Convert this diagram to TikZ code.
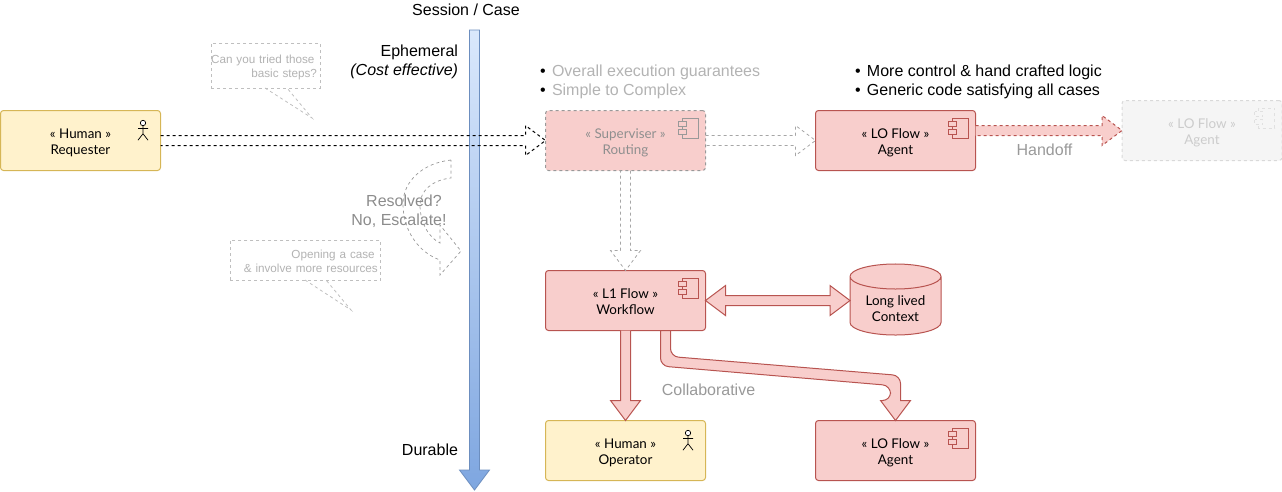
\documentclass[tikz,border=0pt]{standalone}
\usepackage{fontspec}
\setmainfont{Liberation Sans}
\newfontfamily\boxfont{Lato}
\usepackage{xcolor}
\usetikzlibrary{arrows.meta, positioning, shapes, calc}

\definecolor{redfill}{HTML}{F8CECC}
\definecolor{redline}{HTML}{B85450}
\definecolor{yellowfill}{HTML}{FFF2CC}
\definecolor{yellowline}{HTML}{D6B656}
\definecolor{bluetop}{HTML}{DAE8FC}
\definecolor{bluebottom}{HTML}{7EA6E0}
\definecolor{blueline}{HTML}{6C8EBF}
\definecolor{fadetext}{HTML}{B3B3B3}
\definecolor{fadeline}{HTML}{999999}

% flat arrow outline between two points
\newcommand{\flatarrow}[3][]{
    \coordinate (hd) at ($(#3)!20pt!(#2)$);
    \draw[#1] ($(#2)!5pt!90:(#3)$) -- ($(hd)!5pt!90:(#3)$) -- ($(hd)!15pt!90:(#3)$) -- (#3)
        -- ($(hd)!15pt!-90:(#3)$) -- ($(hd)!5pt!-90:(#3)$) -- ($(#2)!5pt!-90:(#3)$);
}
% component icon in the upper right corner of a node
\newcommand{\compicon}[2]{
    \draw[#2] ($(#1.north east)+(-23.5,7.5)$) rectangle ++(16,20);
    \draw[#2] ($(#1.north east)+(-27.5,11)$) rectangle ++(8,5);
    \draw[#2] ($(#1.north east)+(-27.5,19)$) rectangle ++(8,5);
}
% stick figure in the upper right corner of a node
\newcommand{\actoricon}[1]{
    \draw[black, fill=white, line width=0.7pt] ($(#1.north east)+(-17.5,12.5)$) circle (2.7);
    \draw[black, line width=0.7pt] ($(#1.north east)+(-17.5,15.2)$) -- ++(0,8) -- ++(-5,6.5) ++(5,-6.5) -- ++(5,6.5)
        ($(#1.north east)+(-22.5,18)$) -- ++(10,0);
}

\begin{document}
\begin{tikzpicture}[
    x=1pt, y=-1pt,
    every node/.style={inner sep=0pt, outer sep=0pt},
    block/.style={rectangle, draw=redline, fill=redfill, rounded corners=3pt, line width=1pt, minimum height=60pt, minimum width=160pt, align=center, text height=31pt, text depth=3pt, font=\boxfont\fontsize{13.4}{16}\selectfont},
    human/.style={block, draw=yellowline, fill=yellowfill},
    faded/.style={dash pattern=on 3pt off 3pt, draw=fadeline, text=fadetext!80!black},
    ghost/.style={block, dash pattern=on 3pt off 3pt, draw=black!15, fill=black!4, text=black!20},
    store/.style={cylinder, shape border rotate=90, shape aspect=0.42, draw=redline, fill=redfill, line width=1pt, minimum height=70pt, minimum width=91pt, align=center, text height=32pt, text depth=1pt, font=\boxfont\fontsize{13.4}{16}\selectfont},
    caption/.style={font=\fontsize{16}{19}\selectfont, align=right},
    hint/.style={font=\fontsize{16}{19}\selectfont, text=fadeline, align=center},
    notes/.style={font=\fontsize{16}{19}\selectfont, align=left},
    callout/.style={font=\fontsize{11.7}{14}\selectfont, text=fadetext, align=right, draw=black!25, fill=white, dash pattern=on 3pt off 3pt, line width=0.8pt},
    flow/.style={draw=redline, fill=redfill, line width=1pt},
    dashflow/.style={line width=1pt, dash pattern=on 3pt off 3pt},
    lightdash/.style={draw=black!25, line width=0.8pt, dash pattern=on 3pt off 3pt},
]
    \useasboundingbox (0,0) rectangle (1282,491);

    % Blue time axis
    \coordinate (axistop) at (474.5,30);
    \coordinate (axisend) at (474.5,490);
    \draw[draw=blueline, top color=bluetop, bottom color=bluebottom, line width=0.8pt]
        ($(axistop)+(-5,0)$) -- ($(axisend)+(-5,-20)$) -- ($(axisend)+(-15,-20)$) -- (axisend) -- ($(axisend)+(15,-20)$) -- ($(axisend)+(5,-20)$) -- ($(axistop)+(5,0)$) -- cycle;
    \node[caption, anchor=center] (sessionlbl) at (466,10) {Session / Case};
    \node[caption, anchor=east] (ephemerallbl) at (458,62) {Ephemeral\\\textit{(Cost effective)}};
    \node[caption, anchor=east] (durablelbl) at (458,450) {Durable};

    % Boxes
    \node[human] (requester) at (80.5,140.5) {« Human »\\Requester};
    \node[block, faded] (superviser) at (625.5,140.5) {« Superviser »\\Routing};
    \node[block] (agent) at (895.5,140.5) {« LO Flow »\\Agent};
    \node[ghost] (nextagent) at (1202,130.5) {« LO Flow »\\Agent};
    \node[block] (workflow) at (625.5,300.5) {« L1 Flow »\\Workflow};
    \node[store] (context) at (895.5,306) {Long lived\\Context};
    \node[human] (operator) at (625.5,450.5) {« Human »\\Operator};
    \node[block] (lowagent) at (895.5,450.5) {« LO Flow »\\Agent};

    % Icons
    \actoricon{requester}
    \actoricon{operator}
    \compicon{superviser}{draw=fadeline, fill=redfill}
    \compicon{agent}{draw=redline, fill=redfill}
    \compicon{workflow}{draw=redline, fill=redfill}
    \compicon{lowagent}{draw=redline, fill=redfill}
    \compicon{nextagent}{lightdash, draw=black!12, fill=black!4}

    % Connections
    \flatarrow[dashflow, draw=black]{requester.east}{superviser.west}
    \flatarrow[lightdash, draw=black!35]{superviser.east}{agent.west}
    \flatarrow[lightdash, draw=black!35]{superviser.south}{workflow.north}
    \coordinate (handoff) at (agent.east |- nextagent.west);
    \flatarrow[flow, dash pattern=on 3pt off 3pt]{handoff}{nextagent.west}
    \flatarrow[flow]{workflow.south}{operator.north}
    % Two heads
    \coordinate (ctxin) at (workflow.east -| context.west);
    \coordinate (hdl) at ($(workflow.east)+(20,0)$);
    \coordinate (hdr) at ($(ctxin)+(-20,0)$);
    \draw[flow] (workflow.east) -- ($(hdl)+(0,-15)$) -- ($(hdl)+(0,-5)$) -- ($(hdr)+(0,-5)$) -- ($(hdr)+(0,-15)$) -- (ctxin)
        -- ($(hdr)+(0,15)$) -- ($(hdr)+(0,5)$) -- ($(hdl)+(0,5)$) -- ($(hdl)+(0,15)$) -- cycle;
    % Elbow to the lower agent
    \coordinate (elbowa) at ($(workflow.south)+(35,0)$);
    \coordinate (elbowb) at ($(workflow.south)+(45,0)$);
    \draw[flow] (elbowa) [rounded corners=8pt] -- ($(elbowa)+(0,35.5)$) -- ($(lowagent.north)+(-5,-35)$) -- ($(lowagent.north)+(-5,-20)$) [sharp corners]
        -- ($(lowagent.north)+(-15,-20)$) -- (lowagent.north) -- ($(lowagent.north)+(15,-20)$) -- ($(lowagent.north)+(5,-20)$)
        [rounded corners=8pt] -- ($(lowagent.north)+(5,-45)$) -- ($(elbowb)+(0,26)$) [sharp corners] -- (elbowb) -- cycle;

    % Curved escalation arrow
    \coordinate (escstart) at (451,160);
    \coordinate (esctip) at (461,251);
    \draw[lightdash, draw=fadeline, line width=0.7pt] (escstart) .. controls (423,163) and (403,181) .. (403,204)
        .. controls (403,232) and (420,253) .. (440,260) -- (440,275) -- (esctip) -- (440,225) -- (440,243)
        .. controls (428,237) and (420,222) .. (420,205) .. controls (420,191) and (432,180) .. (451,178) -- cycle;
    \node[hint, text=black!45] (resolvedlbl) at (399,211) {\hspace*{10pt}Resolved?\\No, Escalate!};

    % Callouts
    \node[callout, text width=109pt, minimum height=45pt, text height=13pt] (trycall) at (265.5,65.5) {Can you tried those\kern5.5pt\\basic steps?\kern3pt};
    \coordinate (trytip) at (312,118);
    \draw[lightdash] (265,88) -- (trytip) -- (287,88);
    \node[callout, text width=150.5pt, minimum height=40pt, text height=11pt] (casecall) at (305.5,260) {Opening a case\kern6pt\\\& involve more resources\kern3pt};
    \coordinate (casetip) at (351,310);
    \draw[lightdash] (305,280) -- (casetip) -- (326,280);

    % Labels
    \node[notes, anchor=west, text=fadetext] (superviserlbl) at (540,81.5) {{\color{black}\textbullet}\hspace{6.4pt}Overall execution guarantees\\{\color{black}\textbullet}\hspace{6.4pt}Simple to Complex};
    \node[notes, anchor=west] (agentlbl) at (855,81.5) {\textbullet\hspace{6.4pt}More control \& hand crafted logic\\\textbullet\hspace{6.4pt}Generic code satisfying all cases};
    \node[hint] (handofflbl) at (1044.5,150) {Handoff};
    \node[hint] (collablbl) at (708.5,390) {Collaborative};
\end{tikzpicture}
\end{document}
